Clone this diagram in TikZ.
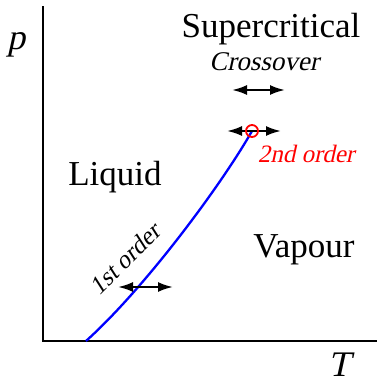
\documentclass[tikz,border=0pt]{standalone}
\usepackage{fontspec}
\setmainfont{Liberation Serif}
\newfontfamily\slfont{Liberation Serif}[FakeSlant=0.22]
\usetikzlibrary{arrows.meta}
\begin{document}
\begin{tikzpicture}[x=1pt,y=-1pt,
  axis/.style={line width=2.8pt},
  big/.style={font=\fontsize{35}{40}\selectfont, inner sep=0pt},
  small/.style={font=\fontsize{25}{30}\selectfont\slfont, inner sep=0pt},
  dbl/.style={line width=2.2pt, {Latex[length=15pt,width=10pt]}-{Latex[length=15pt,width=10pt]}}]
\useasboundingbox (0,0) rectangle (376,383);
% axes
\coordinate (top) at (43,7);
\coordinate (origin) at (43,341);
\coordinate (right) at (376,341);
\draw[axis, line cap=rect] (top) -- (origin) -- (right);
% curve
\coordinate (cp) at (252,131);
\coordinate (cb) at (86,341);
\draw[blue, line width=2.3pt] (cb) .. controls (145,288) and (222,184) .. (cp);
% arrows
\coordinate (a1) at (232,90); \coordinate (b1) at (285,90);
\coordinate (a2) at (227,131); \coordinate (b2) at (281,131);
\coordinate (a3) at (118,287); \coordinate (b3) at (173,287);
\draw[dbl] (a1) -- (b1);
\draw[dbl] (a2) -- (b2);
\draw[dbl] (a3) -- (b3);
\node[draw=red, line width=1.8pt, circle, minimum size=12pt, inner sep=0pt] (crit) at (cp) {};
% labels
\node[inner sep=0pt, font=\fontsize{36}{40}\selectfont\slfont] (p) at (16,45) {p};
\node[inner sep=0pt, font=\fontsize{36}{40}\selectfont\slfont] (T) at (339,365) {T};
\node[big] (sc) at (271,29) {Supercritical};
\node[small, font=\fontsize{27}{30}\selectfont\slfont] (co) at (264,62) {Crossover};
\node[big] (liq) at (115,177) {Liquid};
\node[big] (vap) at (304,250) {Vapour};
\node[small, text=red] (so) at (306,154) {2nd order};
\node[small, rotate=45] (fo) at (125,259) {1st order};
\end{tikzpicture}
\end{document}
